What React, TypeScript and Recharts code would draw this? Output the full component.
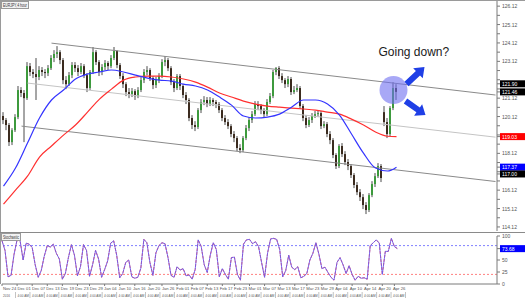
import { Bar, ComposedChart, Line, ReferenceDot, ReferenceLine, XAxis, YAxis } from 'recharts'

// EUR/JPY 4-hour candles (one slot = 3px)
const opens = [
  120.15, 119.93, 119.66, 118.73, 119.38, 120.09, 121.56, 121.4, 121.12, 122.86,
  122.54, 122.43, 122.27, 122.65, 122.54, 122.48, 122.75, 123.3, 123.52, 123.62,
  123.19, 122.1, 121.88, 122.37, 122.92, 122.75, 122.54, 122.86, 122.37, 121.67,
  122.54, 123.62, 123.08, 122.54, 122.81, 123.03, 122.86, 123.3, 123.68, 122.92,
  122.32, 121.88, 121.45, 121.34, 121.5, 121.23, 121.56, 122.1, 122.54, 122.65,
  122.21, 121.83, 122.1, 122.32, 123.08, 123.19, 122.75, 121.99, 121.67, 122.32,
  121.78, 121.29, 121.02, 120.04, 119.66, 119.55, 120.47, 120.91, 121.02, 120.8,
  121.02, 120.91, 120.8, 120.47, 120.04, 119.82, 119.6, 119.17, 118.95, 118.41,
  118.3, 118.95, 119.49, 119.93, 120.25, 120.8, 120.69, 120.47, 120.25, 120.91,
  121.23, 122.54, 122.75, 122.32, 122.1, 121.88, 122.16, 121.45, 121.56, 121.67,
  120.69, 120.04, 119.66, 119.93, 120.15, 120.25, 120.31, 119.6, 119.71, 119.17,
  118.84, 118.03, 117.43, 118.52, 118.08, 117.65, 117.43, 116.94, 116.4, 116.01,
  115.74, 115.31, 115.04, 115.85, 116.45, 116.88, 117.43, 120.36, 119.82, 119.17,
  120.58, 121.67,
]
const highs = [
  120.36, 120.04, 119.77, 119.49, 120.25, 121.78, 121.72, 121.56, 123.08, 123.03,
  122.7, 123.3, 122.86, 122.81, 122.7, 122.92, 123.46, 123.73, 123.95, 123.73,
  123.3, 122.32, 122.54, 123.08, 123.08, 122.92, 123.03, 122.97, 122.48, 122.65,
  123.9, 123.73, 123.19, 122.97, 123.19, 123.13, 123.46, 123.9, 123.73, 123.03,
  122.48, 121.99, 121.67, 121.67, 121.61, 121.72, 122.27, 122.7, 122.86, 122.75,
  122.32, 122.27, 122.48, 123.24, 123.41, 123.3, 122.86, 122.16, 122.43, 122.43,
  121.88, 121.45, 121.12, 120.2, 119.87, 120.58, 121.07, 121.23, 121.18, 121.18,
  121.12, 121.02, 120.91, 120.58, 120.2, 119.98, 119.71, 119.33, 119.06, 118.62,
  119.06, 119.66, 120.09, 120.42, 120.96, 120.96, 120.8, 120.58, 121.07, 121.4,
  122.65, 122.81, 122.86, 122.48, 122.21, 122.32, 122.27, 121.78, 121.88, 121.78,
  120.8, 120.2, 120.09, 120.31, 120.42, 120.47, 120.42, 119.87, 119.82, 119.33,
  118.95, 118.13, 118.62, 118.68, 118.24, 117.81, 117.54, 117.05, 116.56, 116.18,
  115.91, 115.47, 115.96, 116.61, 117.05, 117.59, 117.54, 120.69, 120.04, 120.69,
  121.99, 121.88,
]
const lows = [
  119.71, 119.38, 118.52, 118.57, 119.28, 119.98, 121.18, 118.73, 121.02, 122.32,
  122.21, 121.02, 122.1, 122.32, 122.21, 122.32, 122.65, 123.08, 123.3, 122.97,
  121.88, 121.61, 121.78, 122.21, 122.54, 122.32, 122.43, 122.21, 121.45, 121.56,
  122.43, 122.92, 122.32, 122.37, 122.65, 122.65, 122.75, 123.19, 122.75, 122.16,
  121.67, 121.23, 121.12, 121.18, 121.02, 121.12, 121.45, 121.94, 122.37, 122.05,
  121.61, 121.67, 121.94, 122.21, 122.86, 122.59, 121.83, 121.45, 121.56, 121.56,
  121.12, 120.8, 119.87, 119.44, 119.33, 119.44, 120.31, 120.74, 120.63, 120.69,
  120.69, 120.58, 120.31, 119.87, 119.66, 119.44, 119.0, 118.73, 118.24, 118.13,
  118.19, 118.84, 119.33, 119.77, 120.15, 120.47, 120.25, 120.09, 120.15, 120.8,
  121.12, 122.37, 122.16, 121.94, 121.67, 121.72, 121.29, 121.34, 121.45, 120.53,
  119.87, 119.49, 119.55, 119.77, 120.04, 120.09, 119.44, 119.49, 119.0, 118.62,
  117.86, 117.27, 117.32, 117.92, 117.48, 117.21, 116.78, 116.23, 115.85, 115.53,
  115.09, 114.82, 114.93, 115.74, 116.29, 116.78, 116.56, 119.6, 118.95, 119.06,
  120.47, 121.02,
]
const closes = [
  119.93, 119.66, 118.73, 119.38, 120.09, 121.56, 121.4, 121.12, 122.86, 122.54,
  122.43, 122.27, 122.65, 122.54, 122.48, 122.75, 123.3, 123.52, 123.62, 123.19,
  122.1, 121.88, 122.37, 122.92, 122.75, 122.54, 122.86, 122.37, 121.67, 122.54,
  123.62, 123.08, 122.54, 122.81, 123.03, 122.86, 123.3, 123.68, 122.92, 122.32,
  121.88, 121.45, 121.34, 121.5, 121.23, 121.56, 122.1, 122.54, 122.65, 122.21,
  121.83, 122.1, 122.32, 123.08, 123.19, 122.75, 121.99, 121.67, 122.32, 121.78,
  121.29, 121.02, 120.04, 119.66, 119.55, 120.47, 120.91, 121.02, 120.8, 121.02,
  120.91, 120.8, 120.47, 120.04, 119.82, 119.6, 119.17, 118.95, 118.41, 118.3,
  118.95, 119.49, 119.93, 120.25, 120.8, 120.69, 120.47, 120.25, 120.91, 121.23,
  122.54, 122.75, 122.32, 122.1, 121.88, 122.16, 121.45, 121.56, 121.67, 120.69,
  120.04, 119.66, 119.93, 120.15, 120.25, 120.31, 119.6, 119.71, 119.17, 118.84,
  118.03, 117.43, 118.52, 118.08, 117.65, 117.43, 116.94, 116.4, 116.01, 115.74,
  115.31, 115.04, 115.85, 116.45, 116.88, 117.43, 116.78, 119.82, 119.17, 120.58,
  121.67, 121.46,
]

// moving averages, read every 4th slot
const maIdx = [
  0, 4, 8, 12, 16, 20, 24, 28, 32, 36, 40, 44, 48, 52, 56, 60, 64,
  68, 72, 76, 80, 84, 88, 92, 96, 100, 104, 108, 112, 116, 120, 124, 128, 131,
]
const fastMa = [
  116.34, 117.32, 118.68, 120.04, 121.02, 121.56, 122.16, 122.43, 122.54, 122.65, 122.54, 122.37, 122.21, 122.1, 122.05, 121.88, 121.78,
  121.56, 121.18, 120.74, 120.15, 120.04, 120.09, 120.25, 120.63, 121.02, 121.02, 120.8, 120.2, 119.17, 118.13, 117.32, 117.16, 117.37,
]
const slowMa = [
  115.36, 116.12, 116.88, 117.92, 118.52, 119.11, 119.66, 120.36, 121.07, 121.61, 122.1, 122.27, 122.32, 122.32, 122.27, 122.16, 121.99,
  121.72, 121.4, 121.18, 120.96, 120.8, 120.69, 120.63, 120.58, 120.53, 120.47, 120.36, 120.25, 119.98, 119.66, 119.28, 119.05, 119.03,
]

// descending channel (top, middle, bottom)
const channelKeys = ['top', 'mid', 'bot']
const channelStartIdx = [16, 8, 6]
const channelStartPrice = [124.11, 121.94, 119.6]
const channelEndIdx = 164
const channelEndPrice = [121.29, 119.0, 116.59]

// stochastic %K
const stochK = [
  90, 70, 15, 18, 62, 92, 90, 50, 85, 83, 76, 40, 14, 28, 58, 80, 77, 83, 64, 52,
  10, 22, 55, 82, 60, 17, 36, 82, 70, 16, 40, 70, 52, 14, 30, 48, 85, 90, 60, 13,
  22, 45, 50, 15, 12, 14, 33, 93, 86, 45, 18, 65, 80, 86, 84, 55, 18, 14, 36, 29,
  32, 17, 19, 10, 30, 92, 78, 40, 24, 60, 86, 72, 15, 32, 20, 10, 55, 56, 20, 8,
  83, 92, 93, 84, 88, 78, 45, 14, 65, 94, 95, 93, 72, 15, 28, 60, 35, 30, 36, 13,
  16, 22, 50, 64, 86, 62, 32, 35, 24, 14, 8, 45, 55, 40, 22, 38, 20, 8, 16, 12,
  13, 10, 80, 86, 92, 85, 20, 68, 68, 95, 78, 73.68,
]

const dateLabels = [
  'Nov 24', 'Dec 01', 'Dec 07', 'Dec 13', 'Dec 19', 'Dec 23', 'Dec 29', 'Jan 04', 'Jan 10', 'Jan 16',
  'Jan 20', 'Jan 26', 'Feb 01', 'Feb 07', 'Feb 13', 'Feb 17', 'Feb 23', 'Mar 01', 'Mar 07', 'Mar 13',
  'Mar 17', 'Mar 23', 'Mar 29', 'Apr 04', 'Apr 10', 'Apr 14', 'Apr 20', 'Apr 26',
]
const dateIdx = [0, 5, 10, 15, 20, 25, 29, 34, 39, 44, 49, 53, 58, 63, 68, 73, 77, 82, 87, 92, 97, 101, 106, 111, 116, 121, 126, 130]

const priceLabels = [114.12, 115.12, 116.12, 118.12, 120.12, 121.12, 123.12, 124.12, 125.12, 126.12]
const priceMinor = [
  114.62, 115.62, 116.62, 117.12, 117.62, 118.62, 119.12, 119.62, 120.62,
  121.62, 122.12, 122.62, 123.62, 124.62, 125.62,
]
const priceBadges = [121.9, 121.46, 119.03, 117.37, 117.0]
const badgeColors = ['#000000', '#000000', '#ff0000', '#0000ff', '#000000']
const stochLabels = [0, 25, 50, 100]
const stochBadge = 73.68

const SLOTS = 165
const BULL = '#3d9a3d'
const BEAR = '#3b2b1f'
const WICK = '#4d4d4d'
const FONT = '"Liberation Sans", Arial, sans-serif'
// date labels sit on an even grid under the bars
const LABEL_STEP = 390 / 27

type Row = {
  i: number
  o?: number
  h?: number
  l?: number
  c?: number
  fast?: number
  slow?: number
  top?: number
  mid?: number
  bot?: number
  k?: number
  kSig?: number
}

const rows: Row[] = Array.from({ length: SLOTS }, (_, i) => ({ i }))
closes.forEach((c, i) => {
  Object.assign(rows[i], { o: opens[i], h: highs[i], l: lows[i], c, k: stochK[i], kSig: stochK[i] })
})
maIdx.forEach((idx, n) => {
  rows[idx].fast = fastMa[n]
  rows[idx].slow = slowMa[n]
})
channelKeys.forEach((key, n) => {
  ;(rows[channelStartIdx[n]] as any)[key] = channelStartPrice[n]
  ;(rows[channelEndIdx] as any)[key] = channelEndPrice[n]
})

const candleRange = (d: Row) => (d.o == null ? null : [d.l, d.h])

function Candle(props: any) {
  const { x, y, height, payload } = props
  if (!payload || payload.o == null) return <g />
  const { o, h, l, c } = payload
  const top = Math.min(y, y + height)
  const span = Math.abs(height)
  const k = h - l > 0 ? span / (h - l) : 0
  const bodyTop = top + (h - Math.max(o, c)) * k
  const bodyBottom = top + (h - Math.min(o, c)) * k
  return (
    <g>
      <line x1={x + 1} x2={x + 1} y1={top} y2={top + span} stroke={WICK} strokeWidth={1} />
      <rect x={x} y={bodyTop} width={2} height={Math.max(1, bodyBottom - bodyTop)} fill={c >= o ? BULL : BEAR} />
    </g>
  )
}

function PriceTick(props: any) {
  const { x, y, payload } = props
  const v = payload.value
  const b = priceBadges.indexOf(v)
  if (b >= 0) {
    return (
      <g>
        <rect x={x - 2} y={y - 3.5} width={26} height={7} fill={badgeColors[b]} />
        <text x={x} y={y + 2} fontSize={5} fill="#ffffff" fontFamily={FONT}>{v.toFixed(2)}</text>
      </g>
    )
  }
  if (!priceLabels.includes(v)) return <g />
  return <text x={x} y={y + 2} fontSize={5} fill="#555" fontFamily={FONT}>{v.toFixed(2)}</text>
}

function StochTick(props: any) {
  const { x, y, payload } = props
  const v = payload.value
  if (v === stochBadge) {
    return (
      <g>
        <rect x={x - 2} y={y - 3.5} width={26} height={7} fill="#0000ff" />
        <text x={x} y={y + 2} fontSize={5} fill="#ffffff" fontFamily={FONT}>{v.toFixed(2)}</text>
      </g>
    )
  }
  return <text x={x} y={y + 2} fontSize={5} fill="#555" fontFamily={FONT}>{v}</text>
}

function DateTick(props: any) {
  const { y, payload } = props
  const k = dateIdx.indexOf(payload.value)
  const tx = 3 + LABEL_STEP * k
  return (
    <g fontFamily={FONT} fill="#555">
      <text x={tx} y={y + 4} fontSize={4.2}>{dateLabels[k]}</text>
      <text x={tx} y={y + 10.5} fontSize={3.1}>{k === 0 ? '2016' : '4:00 AM'}</text>
      <line x1={tx + 12.5} x2={tx + 12.5} y1={y + 6} y2={y + 12} stroke="#9a9a9a" strokeWidth={0.6} />
    </g>
  )
}

function arrowPoints(x1: number, y1: number, x2: number, y2: number) {
  const dx = x2 - x1
  const dy = y2 - y1
  const len = Math.hypot(dx, dy)
  const ux = dx / len
  const uy = dy / len
  const nx = -uy
  const ny = ux
  const shaft = 3
  const head = 7
  const headLen = 9
  const bx = x2 - ux * headLen
  const by = y2 - uy * headLen
  return [
    [x1 + nx * shaft, y1 + ny * shaft],
    [bx + nx * shaft, by + ny * shaft],
    [bx + nx * head, by + ny * head],
    [x2, y2],
    [bx - nx * head, by - ny * head],
    [bx - nx * shaft, by - ny * shaft],
    [x1 - nx * shaft, y1 - ny * shaft],
  ]
    .map(p => p.join(','))
    .join(' ')
}

function FocusMark(props: any) {
  const { cx, cy } = props
  return (
    <g>
      <circle cx={cx} cy={cy} r={14} fill="#6e6ef0" fillOpacity={0.6} />
      <polygon points={arrowPoints(cx + 13, cy - 6, cx + 31, cy - 23)} fill="#1f3fe6" />
      <polygon points={arrowPoints(cx + 12, cy + 11, cx + 32, cy + 25)} fill="#1f3fe6" />
      <text x={cx - 15} y={cy - 34} fontSize={12} fill="#1a1a1a" fontFamily={FONT}>Going down?</text>
    </g>
  )
}

export default function App() {
  return (
    <div style={{ position: 'absolute', left: 0, top: 0, width: 525, height: 298, background: '#ffffff', overflow: 'hidden' }}>
      <div style={{ position: 'absolute', left: 0, top: 0 }}>
        <ComposedChart width={525} height={232} data={rows} margin={{ top: 1, right: 0, bottom: 1, left: 2 }} barCategoryGap={0} barGap={0}>
          <XAxis dataKey="i" type="category" hide />
          <YAxis
            orientation="right"
            domain={[113.9, 126.4]}
            allowDataOverflow
            ticks={[...priceLabels, ...priceMinor, ...priceBadges]}
            interval={0}
            width={28}
            tick={PriceTick}
            tickSize={3}
            tickMargin={2}
            axisLine={{ stroke: '#7a7a7a' }}
            tickLine={{ stroke: '#7a7a7a' }}
          />
          <Line dataKey="mid" stroke="#c4c4c4" strokeWidth={1} dot={false} activeDot={false} connectNulls isAnimationActive={false} />
          <Line dataKey="top" stroke="#8a8a8a" strokeWidth={1} dot={false} activeDot={false} connectNulls isAnimationActive={false} />
          <Line dataKey="bot" stroke="#8a8a8a" strokeWidth={1} dot={false} activeDot={false} connectNulls isAnimationActive={false} />
          <Bar dataKey={candleRange as any} shape={Candle} barSize={3} isAnimationActive={false} />
          <Line type="monotone" dataKey="slow" stroke="#ff3030" strokeWidth={1.2} dot={false} activeDot={false} connectNulls isAnimationActive={false} />
          <Line type="monotone" dataKey="fast" stroke="#3434ff" strokeWidth={1.2} dot={false} activeDot={false} connectNulls isAnimationActive={false} />
          <ReferenceDot x={130} y={121.56} r={14} shape={FocusMark} ifOverflow="visible" />
        </ComposedChart>
      </div>
      <div style={{ position: 'absolute', left: 0, top: 232 }}>
        <ComposedChart width={525} height={66} data={rows} margin={{ top: 4, right: 0, bottom: 0, left: 2 }}>
          <XAxis
            dataKey="i"
            type="category"
            ticks={dateIdx}
            interval={0}
            height={14}
            tick={DateTick}
            tickSize={2}
            tickMargin={0}
            axisLine={{ stroke: '#7a7a7a' }}
            tickLine={{ stroke: '#7a7a7a' }}
          />
          <YAxis
            orientation="right"
            domain={[0, 100]}
            ticks={[...stochLabels, stochBadge]}
            interval={0}
            width={28}
            tick={StochTick}
            tickSize={3}
            tickMargin={2}
            axisLine={{ stroke: '#7a7a7a' }}
            tickLine={{ stroke: '#7a7a7a' }}
          />
          <ReferenceLine y={80} stroke="#8080ff" strokeDasharray="2 2" />
          <ReferenceLine y={20} stroke="#ff8080" strokeDasharray="2 2" />
          <Line dataKey="kSig" stroke="#ff4a4a" strokeWidth={1} strokeDasharray="3 1" dot={false} activeDot={false} isAnimationActive={false} />
          <Line dataKey="k" stroke="#5c5cff" strokeOpacity={0.8} strokeWidth={1} dot={false} activeDot={false} isAnimationActive={false} />
        </ComposedChart>
      </div>
      <svg width={525} height={298} style={{ position: 'absolute', left: 0, top: 0, pointerEvents: 'none' }}>
        <line x1={0} x2={525} y1={0.5} y2={0.5} stroke="#9a9a9a" />
        <line x1={0.5} x2={0.5} y1={0} y2={284} stroke="#9a9a9a" />
        <line x1={0} x2={525} y1={232.5} y2={232.5} stroke="#8a8a8a" />
        <rect x={1.5} y={1.5} width={27} height={7} fill="#f2f2f2" stroke="#9a9a9a" />
        <text x={3} y={7} fontSize={5} fill="#333" fontFamily={FONT} textLength={24} lengthAdjust="spacingAndGlyphs">EURJPY,4 hour</text>
        <rect x={1.5} y={233.5} width={19} height={7} fill="#f2f2f2" stroke="#9a9a9a" />
        <text x={3} y={239} fontSize={5} fill="#333" fontFamily={FONT} textLength={16} lengthAdjust="spacingAndGlyphs">Stochastic</text>
      </svg>
    </div>
  )
}
